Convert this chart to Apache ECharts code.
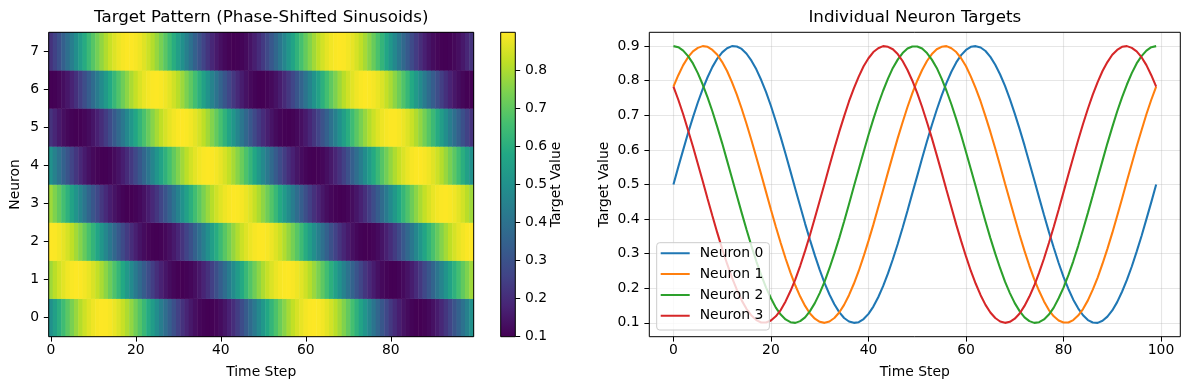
<!DOCTYPE html>
<html><head><meta charset="utf-8">
<script src="https://cdn.jsdelivr.net/npm/echarts@6/dist/echarts.min.js"></script>
<style>html,body{margin:0;padding:0;background:#fff}#c{width:1189px;height:390px}</style>
</head><body><div id="c"></div>
<script>
const timeSteps = [0,1,2,3,4,5,6,7,8,9,10,11,12,13,14,15,16,17,18,19,20,21,22,23,24,25,26,27,28,29,30,31,32,33,34,35,36,37,38,39,40,41,42,43,44,45,46,47,48,49,50,51,52,53,54,55,56,57,58,59,60,61,62,63,64,65,66,67,68,69,70,71,72,73,74,75,76,77,78,79,80,81,82,83,84,85,86,87,88,89,90,91,92,93,94,95,96,97,98,99];
const neuronLabels = ['0','1','2','3','4','5','6','7'];

const neuron0 = [0.500,0.551,0.600,0.649,0.694,0.737,0.776,0.810,0.840,0.864,0.882,0.894,0.900,0.899,0.892,0.878,0.858,0.833,0.802,0.767,0.727,0.683,0.637,0.588,0.538,0.487,0.437,0.387,0.340,0.295,0.253,0.215,0.182,0.154,0.131,0.114,0.104,0.100,0.102,0.111,0.126,0.147,0.174,0.206,0.243,0.284,0.328,0.375,0.424,0.475,0.525,0.576,0.625,0.672,0.716,0.757,0.794,0.826,0.853,0.874,0.889,0.898,0.900,0.896,0.886,0.869,0.846,0.818,0.785,0.747,0.705,0.660,0.613,0.563,0.513,0.462,0.412,0.363,0.317,0.273,0.233,0.198,0.167,0.142,0.122,0.108,0.101,0.100,0.106,0.118,0.136,0.160,0.190,0.224,0.263,0.306,0.351,0.400,0.449,0.500];
const neuron1 = [0.783,0.816,0.845,0.868,0.885,0.895,0.900,0.898,0.889,0.875,0.854,0.828,0.796,0.760,0.719,0.675,0.628,0.579,0.529,0.478,0.427,0.378,0.331,0.286,0.245,0.208,0.176,0.149,0.127,0.112,0.103,0.100,0.104,0.114,0.130,0.152,0.180,0.213,0.250,0.292,0.337,0.384,0.434,0.484,0.535,0.585,0.634,0.680,0.724,0.764,0.800,0.831,0.857,0.877,0.891,0.898,0.900,0.894,0.883,0.865,0.842,0.812,0.778,0.740,0.697,0.652,0.604,0.554,0.503,0.453,0.403,0.354,0.308,0.265,0.226,0.192,0.162,0.137,0.119,0.107,0.101,0.101,0.108,0.121,0.140,0.165,0.196,0.231,0.271,0.314,0.360,0.409,0.459,0.510,0.560,0.610,0.657,0.703,0.745,0.783];
const neuron2 = [0.900,0.897,0.887,0.871,0.850,0.822,0.789,0.752,0.711,0.666,0.619,0.569,0.519,0.468,0.418,0.369,0.322,0.278,0.238,0.202,0.171,0.144,0.124,0.110,0.102,0.100,0.105,0.116,0.134,0.157,0.186,0.219,0.258,0.300,0.345,0.393,0.443,0.494,0.544,0.594,0.643,0.689,0.732,0.771,0.806,0.837,0.861,0.880,0.893,0.899,0.899,0.893,0.880,0.861,0.837,0.806,0.771,0.732,0.689,0.643,0.594,0.544,0.494,0.443,0.393,0.345,0.300,0.258,0.219,0.186,0.157,0.134,0.116,0.105,0.100,0.102,0.110,0.124,0.144,0.171,0.202,0.238,0.278,0.322,0.369,0.418,0.468,0.519,0.569,0.619,0.666,0.711,0.752,0.789,0.822,0.850,0.871,0.887,0.897,0.900];
const neuron3 = [0.783,0.745,0.703,0.657,0.610,0.560,0.510,0.459,0.409,0.360,0.314,0.271,0.231,0.196,0.165,0.140,0.121,0.108,0.101,0.101,0.107,0.119,0.137,0.162,0.192,0.226,0.265,0.308,0.354,0.403,0.453,0.503,0.554,0.604,0.652,0.697,0.740,0.778,0.812,0.842,0.865,0.883,0.894,0.900,0.898,0.891,0.877,0.857,0.831,0.800,0.764,0.724,0.680,0.634,0.585,0.535,0.484,0.434,0.384,0.337,0.292,0.250,0.213,0.180,0.152,0.130,0.114,0.104,0.100,0.103,0.112,0.127,0.149,0.176,0.208,0.245,0.286,0.331,0.378,0.427,0.478,0.529,0.579,0.628,0.675,0.719,0.760,0.796,0.828,0.854,0.875,0.889,0.898,0.900,0.895,0.885,0.868,0.845,0.816,0.783];
const neuron4 = [0.500,0.449,0.400,0.351,0.306,0.263,0.224,0.190,0.160,0.136,0.118,0.106,0.100,0.101,0.108,0.122,0.142,0.167,0.198,0.233,0.273,0.317,0.363,0.412,0.462,0.513,0.563,0.613,0.660,0.705,0.747,0.785,0.818,0.846,0.869,0.886,0.896,0.900,0.898,0.889,0.874,0.853,0.826,0.794,0.757,0.716,0.672,0.625,0.576,0.525,0.475,0.424,0.375,0.328,0.284,0.243,0.206,0.174,0.147,0.126,0.111,0.102,0.100,0.104,0.114,0.131,0.154,0.182,0.215,0.253,0.295,0.340,0.387,0.437,0.487,0.538,0.588,0.637,0.683,0.727,0.767,0.802,0.833,0.858,0.878,0.892,0.899,0.900,0.894,0.882,0.864,0.840,0.810,0.776,0.737,0.694,0.649,0.600,0.551,0.500];
const neuron5 = [0.217,0.184,0.155,0.132,0.115,0.105,0.100,0.102,0.111,0.125,0.146,0.172,0.204,0.240,0.281,0.325,0.372,0.421,0.471,0.522,0.573,0.622,0.669,0.714,0.755,0.792,0.824,0.851,0.873,0.888,0.897,0.900,0.896,0.886,0.870,0.848,0.820,0.787,0.750,0.708,0.663,0.616,0.566,0.516,0.465,0.415,0.366,0.320,0.276,0.236,0.200,0.169,0.143,0.123,0.109,0.102,0.100,0.106,0.117,0.135,0.158,0.188,0.222,0.260,0.303,0.348,0.396,0.446,0.497,0.547,0.597,0.646,0.692,0.735,0.774,0.808,0.838,0.863,0.881,0.893,0.899,0.899,0.892,0.879,0.860,0.835,0.804,0.769,0.729,0.686,0.640,0.591,0.541,0.490,0.440,0.390,0.343,0.297,0.255,0.217];
const neuron6 = [0.100,0.103,0.113,0.129,0.150,0.178,0.211,0.248,0.289,0.334,0.381,0.431,0.481,0.532,0.582,0.631,0.678,0.722,0.762,0.798,0.829,0.856,0.876,0.890,0.898,0.900,0.895,0.884,0.866,0.843,0.814,0.781,0.742,0.700,0.655,0.607,0.557,0.506,0.456,0.406,0.357,0.311,0.268,0.229,0.194,0.163,0.139,0.120,0.107,0.101,0.101,0.107,0.120,0.139,0.163,0.194,0.229,0.268,0.311,0.357,0.406,0.456,0.506,0.557,0.607,0.655,0.700,0.742,0.781,0.814,0.843,0.866,0.884,0.895,0.900,0.898,0.890,0.876,0.856,0.829,0.798,0.762,0.722,0.678,0.631,0.582,0.532,0.481,0.431,0.381,0.334,0.289,0.248,0.211,0.178,0.150,0.129,0.113,0.103,0.100];
const neuron7 = [0.217,0.255,0.297,0.343,0.390,0.440,0.490,0.541,0.591,0.640,0.686,0.729,0.769,0.804,0.835,0.860,0.879,0.892,0.899,0.899,0.893,0.881,0.863,0.838,0.808,0.774,0.735,0.692,0.646,0.597,0.547,0.497,0.446,0.396,0.348,0.303,0.260,0.222,0.188,0.158,0.135,0.117,0.106,0.100,0.102,0.109,0.123,0.143,0.169,0.200,0.236,0.276,0.320,0.366,0.415,0.465,0.516,0.566,0.616,0.663,0.708,0.750,0.787,0.820,0.848,0.870,0.886,0.896,0.900,0.897,0.888,0.873,0.851,0.824,0.792,0.755,0.714,0.669,0.622,0.573,0.522,0.471,0.421,0.372,0.325,0.281,0.240,0.204,0.172,0.146,0.125,0.111,0.102,0.100,0.105,0.115,0.132,0.155,0.184,0.217];

const lineNames = ['Neuron 0','Neuron 1','Neuron 2','Neuron 3'];
const lineColors = ['#1f77b4','#ff7f0e','#2ca02c','#d62728'];
const heatXTickStep = 20;
const lineXTicks = [0,20,40,60,80,100];
const lineYTicks = [0.1,0.2,0.3,0.4,0.5,0.6,0.7,0.8,0.9];
const colorbarTicks = [0.1,0.2,0.3,0.4,0.5,0.6,0.7,0.8];
const colorRange = [0.1, 0.9];
const viridis = ['#440154','#482475','#414487','#355f8d','#2a788e','#21918c','#22a884','#44bf70','#7ad151','#bddf26','#fde725'];

const neurons = [neuron0,neuron1,neuron2,neuron3,neuron4,neuron5,neuron6,neuron7];
const lineSeriesData = [neuron0,neuron1,neuron2,neuron3];
const heatData = [];
neurons.forEach((row, n) => row.forEach((v, t) => heatData.push([t, n, v])));

const FONT = 'DejaVu Sans';
const txt = {fontFamily: FONT, fontSize: 13.9, color: '#000'};
const tickStyle = {color: '#000', width: 1};
const gridLine = {color: 'rgba(176,176,176,0.32)', width: 1.1};
// legend handle: 29px line plus an invisible hairline marker at 34px to widen the gap before the text
const legendIcon = 'path://M0,0H29V2H0Z M34,0H34.001V2H34Z';

const chart = echarts.init(document.getElementById('c'), null, {renderer: 'canvas'});
const option = {
  animation: false,
  backgroundColor: '#fff',
  grid: [
    {left: 48.7, top: 32.3, width: 425, height: 304.4, show: true, borderColor: '#000', borderWidth: 1, z: 5, backgroundColor: 'transparent', containLabel: false, outerBoundsMode: 'none'},
    {left: 500.7, top: 32.3, width: 14.6, height: 304.4, show: true, borderColor: '#000', borderWidth: 1, z: 5, backgroundColor: 'transparent', containLabel: false, outerBoundsMode: 'none'},
    {left: 649.3, top: 32.3, width: 531, height: 304.4, show: true, borderColor: '#000', borderWidth: 1, z: 5, backgroundColor: 'transparent', containLabel: false, outerBoundsMode: 'none'}
  ],
  visualMap: {type: 'continuous', show: false, min: colorRange[0], max: colorRange[1], seriesIndex: 0, dimension: 2, inRange: {color: viridis}},
  xAxis: [
    {gridIndex: 0, type: 'category', data: timeSteps, position: 'bottom',
     axisLine: {show: false, onZero: false},
     axisTick: {show: true, alignWithLabel: true, interval: i => i % heatXTickStep === 0, length: 4.9, lineStyle: tickStyle},
     axisLabel: {interval: i => i % heatXTickStep === 0, margin: 7, ...txt},
     splitLine: {show: false},
     name: 'Time Step', nameLocation: 'middle', nameGap: 28.3, nameTextStyle: txt, nameMoveOverlap: false},
    {gridIndex: 0, type: 'category', data: timeSteps, position: 'top',
     axisLine: {show: false, onZero: false}, axisTick: {show: false}, axisLabel: {show: false}, splitLine: {show: false},
     name: 'Target Pattern (Phase-Shifted Sinusoids)', nameLocation: 'middle', nameGap: 6,
     nameTextStyle: {...txt, fontSize: 16.7}, nameMoveOverlap: false},
    {gridIndex: 1, type: 'category', data: ['cb'], show: false},
    {gridIndex: 2, type: 'value', min: -4.95, max: 103.95, position: 'bottom',
     axisLine: {show: false, onZero: false},
     axisTick: {show: true, customValues: lineXTicks, length: 4.9, lineStyle: tickStyle},
     axisLabel: {customValues: lineXTicks, margin: 7, ...txt},
     splitLine: {show: true, lineStyle: gridLine},
     name: 'Time Step', nameLocation: 'middle', nameGap: 28.3, nameTextStyle: txt, nameMoveOverlap: false},
    {gridIndex: 2, type: 'value', min: -4.95, max: 103.95, position: 'top',
     axisLine: {show: false, onZero: false}, axisTick: {show: false}, axisLabel: {show: false}, splitLine: {show: false},
     name: 'Individual Neuron Targets', nameLocation: 'middle', nameGap: 6,
     nameTextStyle: {...txt, fontSize: 16.7}, nameMoveOverlap: false}
  ],
  yAxis: [
    {gridIndex: 0, type: 'category', data: neuronLabels, position: 'left',
     axisLine: {show: false, onZero: false},
     axisTick: {show: true, alignWithLabel: true, length: 4.9, lineStyle: tickStyle},
     axisLabel: {margin: 9.7, ...txt},
     splitLine: {show: false},
     name: 'Neuron', nameLocation: 'middle', nameGap: 26, nameTextStyle: txt, nameMoveOverlap: false},
    {gridIndex: 1, type: 'value', min: colorRange[0], max: colorRange[1], position: 'right',
     axisLine: {show: false, onZero: false},
     axisTick: {show: true, customValues: colorbarTicks, length: 4.9, lineStyle: tickStyle},
     axisLabel: {customValues: colorbarTicks, margin: 9.7, formatter: v => v.toFixed(1), ...txt},
     splitLine: {show: false},
     name: 'Target Value', nameLocation: 'middle', nameGap: 34.4, nameTextStyle: txt, nameMoveOverlap: false},
    {gridIndex: 2, type: 'value', min: 0.06, max: 0.94, position: 'left',
     axisLine: {show: false, onZero: false},
     axisTick: {show: true, customValues: lineYTicks, length: 4.9, lineStyle: tickStyle},
     axisLabel: {customValues: lineYTicks, margin: 9.7, formatter: v => v.toFixed(1), ...txt},
     splitLine: {show: true, lineStyle: gridLine},
     name: 'Target Value', nameLocation: 'middle', nameGap: 38.3, nameTextStyle: txt, nameMoveOverlap: false}
  ],
  legend: {
    orient: 'vertical', left: 656.7, top: 242.7, data: lineNames.map(n => ({name: n, icon: legendIcon})),
    itemWidth: 34, itemHeight: 2, itemGap: 4.8, padding: [2.6, 6, 6.3, 4],
    backgroundColor: 'rgba(255,255,255,0.8)', borderColor: '#cccccc', borderWidth: 1, borderRadius: 3,
    textStyle: {fontFamily: FONT, fontSize: 13.9, color: '#000', lineHeight: 16}, selectedMode: false
  },
  series: [
    {type: 'heatmap', xAxisIndex: 0, yAxisIndex: 0, data: heatData, progressive: 0, emphasis: {disabled: true}},
    {type: 'custom', xAxisIndex: 2, yAxisIndex: 1, data: [[0, colorRange[0], colorRange[1]]], silent: true,
     renderItem: (params, api) => {
       const lo = api.coord([api.value(0), api.value(1)]);
       const hi = api.coord([api.value(0), api.value(2)]);
       const cs = params.coordSys;
       return {type: 'rect', shape: {x: cs.x, y: hi[1], width: cs.width, height: lo[1] - hi[1]},
         style: {fill: new echarts.graphic.LinearGradient(0, 1, 0, 0, viridis.map((c, i) => ({offset: i / (viridis.length - 1), color: c})))}};
     }},
    ...lineSeriesData.map((arr, k) => ({
      type: 'line', name: lineNames[k], xAxisIndex: 3, yAxisIndex: 2,
      data: timeSteps.map((t, i) => [t, arr[i]]),
      showSymbol: false, symbol: 'none', smooth: false,
      lineStyle: {width: 2.08, color: lineColors[k]}, itemStyle: {color: lineColors[k]},
      emphasis: {disabled: true}
    }))
  ]
};
chart.setOption(option);
</script>
</body></html>
